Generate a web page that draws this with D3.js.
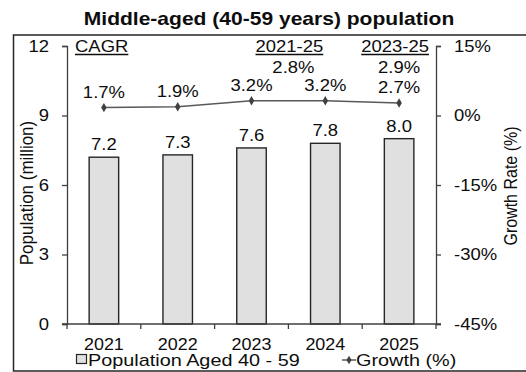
<html>
<head>
<style>
  body { margin: 0; background: #fff; font-family: "Liberation Sans", Arial, sans-serif; }
  svg { display: block; }
  text { fill: #0d0d0d; }
</style>
<script src="https://cdnjs.cloudflare.com/ajax/libs/d3/7.8.5/d3.min.js"></script>
</head>
<body>
<div class="chart"></div>
<script type="text/javascript">
  // values
  const years = ["2021", "2022", "2023", "2024", "2025"];
  const population = [7.2, 7.3, 7.6, 7.8, 8.0];
  const growth = [1.7, 1.9, 3.2, 3.2, 2.7];
  const cagrPeriods = ["2021-25", "2023-25"];
  const cagrValues = [2.8, 2.9];
  const leftTicks = [0, 3, 6, 9, 12];
  const rightTicks = [-45, -30, -15, 0, 15];

  var W = 526, H = 372;
  var SX = 1.12;      // source picture is a little wider than tall
  var FS = 16.5;
  var axisCol = "#404040";

  var svg = d3.select(".chart").append("svg")
      .attr("width", W).attr("height", H);

  var x = d3.scaleBand().domain(years).range([67, 436]).padding(0);
  var yL = d3.scaleLinear().domain([0, 12]).range([324, 46]);
  var yR = d3.scaleLinear().domain([-45, 15]).range([324, 46]);

  function txt(g, px, py, s, o) {
    o = o || {};
    return g.append("text")
      .attr("transform", "translate(" + px + "," + py + ") scale(" + (o.sx || SX) + ",1)")
      .attr("text-anchor", o.anchor || "middle")
      .attr("font-weight", o.weight || null)
      .style("font-size", (o.size || FS) + "px")
      .text(s);
  }

  // frame
  svg.append("rect")
    .attr("x", 13.5).attr("y", 35).attr("width", 520).attr("height", 336)
    .attr("fill", "none").attr("stroke", "#262626").attr("stroke-width", 1.5);

  // title
  txt(svg, 269, 25, "Middle-aged (40-59 years) population", {size: 18.8, weight: "bold"});

  // bars
  var bw = x.bandwidth() * 0.4;
  svg.selectAll("rect.bar")
    .data(population)
    .enter().append("rect")
    .attr("class", "bar")
    .attr("x", function (d, i) { return x(years[i]) + x.bandwidth() / 2 - bw / 2; })
    .attr("y", function (d) { return yL(d); })
    .attr("width", bw)
    .attr("height", function (d) { return yL(0) - yL(d); })
    .attr("fill", "#e0e0e0")
    .attr("stroke", "#262626")
    .attr("stroke-width", 1.4);

  population.forEach(function (d, i) {
    txt(svg, x(years[i]) + x.bandwidth() / 2, yL(d) - 7, d.toFixed(1));
  });

  // left axis
  var gL = svg.append("g").attr("transform", "translate(67,0)")
    .call(d3.axisLeft(yL).tickValues(leftTicks).tickSize(5).tickSizeOuter(5));
  // right axis
  var gR = svg.append("g").attr("transform", "translate(436,0)")
    .call(d3.axisRight(yR).tickValues(rightTicks).tickSize(5).tickSizeOuter(5)
      .tickFormat(function (d) { return d + "%"; }));

  [gL, gR].forEach(function (g, k) {
    g.selectAll("path, line").attr("stroke", axisCol).attr("stroke-width", 1.3);
    g.selectAll("text")
      .attr("x", 0)
      .attr("transform", "translate(" + (k ? 18 : -18) + ",0) scale(" + SX + ",1)")
      .style("font-size", FS + "px")
      .style("font-family", "Liberation Sans, Arial, sans-serif")
      .attr("fill", "#0d0d0d");
  });

  // x axis: line plus ticks at category boundaries
  svg.append("line")
    .attr("x1", 62).attr("x2", 441).attr("y1", 324).attr("y2", 324)
    .attr("stroke", axisCol).attr("stroke-width", 1.3);
  var bounds = years.map(function (d) { return x(d); }).concat([x.range()[1]]);
  svg.selectAll("line.xtick")
    .data(bounds)
    .enter().append("line")
    .attr("class", "xtick")
    .attr("x1", function (d) { return d; }).attr("x2", function (d) { return d; })
    .attr("y1", 324).attr("y2", 329)
    .attr("stroke", axisCol).attr("stroke-width", 1.3);
  years.forEach(function (d) {
    txt(svg, x(d) + x.bandwidth() / 2, 350, d, {size: 16});
  });

  // growth line
  var line = d3.line()
    .x(function (d, i) { return x(years[i]) + x.bandwidth() / 2; })
    .y(function (d) { return yR(d); });
  svg.append("path")
    .datum(growth)
    .attr("d", line)
    .attr("fill", "none")
    .attr("stroke", "#595959")
    .attr("stroke-width", 1.5);
  svg.selectAll("path.pt")
    .data(growth)
    .enter().append("path")
    .attr("class", "pt")
    .attr("d", d3.symbol(d3.symbolDiamond).size(26))
    .attr("transform", function (d, i) {
      return "translate(" + (x(years[i]) + x.bandwidth() / 2) + "," + yR(d) + ")";
    })
    .attr("fill", "#404040");
  growth.forEach(function (d, i) {
    txt(svg, x(years[i]) + x.bandwidth() / 2, yR(d) - 10, d.toFixed(1) + "%");
  });

  // CAGR block
  function underlined(px, py, s, anchor) {
    var t = txt(svg, px, py, s, {anchor: anchor});
    var w = t.node().getComputedTextLength() * SX;
    var x0 = anchor === "start" ? px : px - w / 2;
    svg.append("line")
      .attr("x1", x0).attr("x2", x0 + w)
      .attr("y1", py + 2.5).attr("y2", py + 2.5)
      .attr("stroke", "#0d0d0d").attr("stroke-width", 1.6);
  }
  underlined(75, 52, "CAGR", "start");
  var cagrX = [x(years[3]) + 1, x(years[4]) + x.bandwidth() / 2 - 4];
  cagrPeriods.forEach(function (p, i) {
    underlined(cagrX[i], 52, p, "middle");
    txt(svg, cagrX[i] + 4, 73, cagrValues[i].toFixed(1) + "%");
  });

  // axis titles
  svg.append("text")
    .attr("transform", "translate(27,193) scale(" + SX + ",1) rotate(-90)")
    .attr("text-anchor", "middle")
    .attr("dominant-baseline", "central")
    .style("font-size", "17px")
    .text("Population (million)");
  svg.append("text")
    .attr("transform", "translate(511,186) scale(" + SX + ",1) rotate(-90)")
    .attr("text-anchor", "middle")
    .attr("dominant-baseline", "central")
    .style("font-size", "16px")
    .text("Growth Rate (%)");

  // legend (wider letters than the rest, as in the reference)
  svg.append("rect")
    .attr("x", 76.5).attr("y", 354.5).attr("width", 10).attr("height", 9)
    .attr("fill", "#e0e0e0").attr("stroke", "#262626").attr("stroke-width", 1.2);
  txt(svg, 88, 366, "Population Aged 40 - 59", {anchor: "start", size: 16, sx: 1.24});
  svg.append("line")
    .attr("x1", 342).attr("x2", 356).attr("y1", 360).attr("y2", 360)
    .attr("stroke", "#595959").attr("stroke-width", 1.5);
  svg.append("path")
    .attr("d", d3.symbol(d3.symbolDiamond).size(22))
    .attr("transform", "translate(349,360)")
    .attr("fill", "#404040");
  txt(svg, 356, 366, "Growth (%)", {anchor: "start", size: 16, sx: 1.24});
</script>
</body>
</html>
